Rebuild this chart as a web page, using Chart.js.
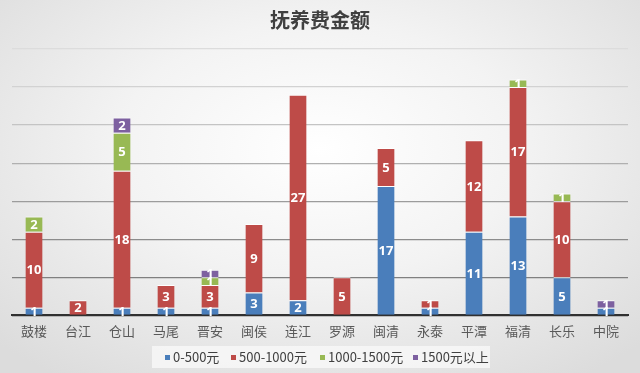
<!DOCTYPE html>
<html><head><meta charset="utf-8">
<script src="https://cdn.jsdelivr.net/npm/chart.js@4/dist/chart.umd.min.js"></script>
<style>
html,body{margin:0;padding:0;}
body{width:640px;height:373px;background:radial-gradient(ellipse 70% 75% at 50% 40%, #ffffff 0%, #f3f3f3 45%, #dcdcdc 100%);overflow:hidden;}
#wrap{position:relative;width:640px;height:373px;}
#legend{position:absolute;left:152px;top:346px;width:338px;height:22px;background:rgba(250,250,250,0.75);
  font-family:"Noto Sans CJK SC",sans-serif;font-size:13px;color:#404040;}
.item{position:absolute;top:0;height:22px;line-height:22px;white-space:nowrap;}
.sw{display:inline-block;width:5px;height:5px;margin-right:3px;vertical-align:middle;position:relative;top:-1px;}
</style></head>
<body><div id="wrap"><canvas id="c" width="640" height="373"></canvas><div id="legend"></div></div>
<script>
const categories = ['鼓楼','台江','仓山','马尾','晋安','闽侯','连江','罗源','闽清','永泰','平潭','福清','长乐','中院'];
const seriesNames = ['0-500元','500-1000元','1000-1500元','1500元以上'];
const s0_500 =     [1, 0, 1, 1, 1, 3, 2, 0, 17, 1, 11, 13, 5, 1];
const s500_1000 =  [10, 2, 18, 3, 3, 9, 27, 5, 5, 1, 12, 17, 10, 0];
const s1000_1500 = [2, 0, 5, 0, 1, 0, 0, 0, 0, 0, 0, 1, 1, 0];
const s1500up =    [0, 0, 2, 0, 1, 0, 0, 0, 0, 0, 0, 0, 0, 1];
const colors = ['#4A7EBB','#BE4B48','#98B954','#7D60A0'];
const values = [s0_500, s500_1000, s1000_1500, s1500up];
const gridColors = ['#303030','#808080','#8c8c8c','#9c9c9c','#b0b0b0','#c4c4c4','#d2d2d2','#dcdcdc'];

// HTML legend
const legendLeft = [13, 79, 168, 261];
const lg = document.getElementById('legend');
seriesNames.forEach((n, i) => {
  const d = document.createElement('div');
  d.className = 'item';
  d.style.left = legendLeft[i] + 'px';
  const sw = document.createElement('span');
  sw.className = 'sw';
  sw.style.background = colors[i];
  d.appendChild(sw);
  d.appendChild(document.createTextNode(n));
  lg.appendChild(d);
});

const labelPlugin = {
  id:'segLabels',
  afterDatasetsDraw(chart){
    const ctx = chart.ctx;
    ctx.save();
    ctx.fillStyle = '#ffffff';
    ctx.font = 'bold 13px "Open Sans", "DejaVu Sans", sans-serif';
    ctx.textAlign = 'center';
    ctx.textBaseline = 'middle';
    chart.data.datasets.forEach((ds, i) => {
      const meta = chart.getDatasetMeta(i);
      meta.data.forEach((el, j) => {
        const v = ds.data[j];
        if (!v) return;
        ctx.fillText(String(v), el.x, (el.y + el.base) / 2 + 1);
      });
    });
    ctx.restore();
  }
};

new Chart(document.getElementById('c'), {
  type: 'bar',
  data: {
    labels: categories,
    datasets: values.map((v, i) => ({
      label: seriesNames[i],
      data: v,
      backgroundColor: colors[i],
      borderColor: '#ffffff',
      borderWidth: {top: 1, left: 0, right: 0, bottom: 0},
      borderSkipped: false,
      barPercentage: 0.39,
      categoryPercentage: 1.0
    }))
  },
  options: {
    responsive: false,
    animation: false,
    layout: {padding: {top: 8, left: 12, right: 12, bottom: 26}},
    plugins: {
      title: {
        display: true,
        text: '抚养费金额',
        color: '#404040',
        font: {size: 20, weight: 'bold', family: '"Noto Sans CJK SC", sans-serif'},
        padding: {top: 0, bottom: 17}
      },
      legend: {display: false},
      tooltip: {enabled: false}
    },
    scales: {
      x: {
        stacked: true,
        grid: {display: false, drawTicks: false},
        border: {display: true, color: '#303030', width: 2},
        ticks: {color: '#595959', font: {size: 13, family: '"Noto Sans CJK SC", sans-serif'}, padding: 8}
      },
      y: {
        stacked: true,
        min: 0, max: 35,
        ticks: {display: false, stepSize: 5},
        border: {display: false},
        grid: {color: (c) => gridColors[c.index] || '#d0d0d0', lineWidth: 1.3, drawTicks: false}
      }
    }
  },
  plugins: [labelPlugin]
});
</script></body></html>
